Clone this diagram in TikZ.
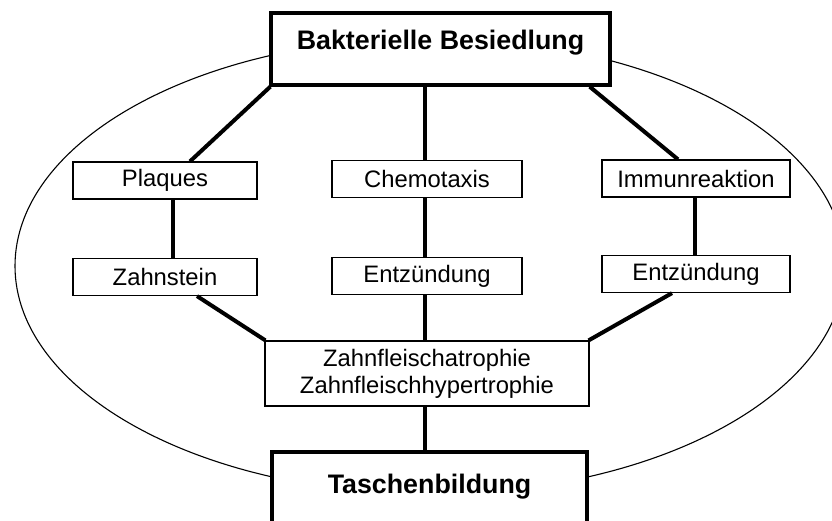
\documentclass[tikz,border=0pt]{standalone}
\usepackage{fontspec}
\setmainfont{Liberation Sans}
\begin{document}
\begin{tikzpicture}[x=1pt,y=-1pt,
  smallbox/.style={draw, line width=1.2pt, fill=white, inner sep=0pt,
    minimum height=37pt, font=\fontsize{23.8}{27}\selectfont},
  bigbox/.style={draw, line width=3.3pt, fill=white, inner xsep=0pt, inner ysep=0pt,
    font=\fontsize{26.8}{30}\selectfont\bfseries, anchor=base},
  link/.style={line width=4pt},
  hull/.style={line width=1.1pt}]
\useasboundingbox (0,0) rectangle (832,521);
\clip (0,0) rectangle (832,521);
% enclosing ellipse
\draw[hull] (430,266) ellipse [x radius=415, y radius=228];
% main boxes
\node[bigbox, minimum width=339pt, text height=37pt, text depth=35pt] (top) at (440.5,50) {Bakterielle Besiedlung};
\node[bigbox, minimum width=315pt, text height=41pt, text depth=45pt] (bot) at (429.5,493) {Taschenbildung};
% small boxes
\node[smallbox, minimum width=184pt] (plq) at (165,180.5) {Plaques};
\node[smallbox, minimum width=184pt] (zst) at (165,277) {Zahnstein};
\node[smallbox, minimum width=190pt] (chem) at (427,179) {Chemotaxis};
\node[smallbox, minimum width=190pt] (entm) at (427,276) {Entzündung};
\node[smallbox, minimum width=188pt] (imm) at (696,178.5) {Immunreaktion};
\node[smallbox, minimum width=188pt] (entr) at (696,274) {Entzündung};
\node[smallbox, minimum width=324pt, minimum height=65pt, align=center] (mid) at (427,373.5) {Zahnfleischatrophie\\Zahnfleischhypertrophie};
% connectors
\draw[link] ([xshift=1pt]top.south west) -- ([xshift=25pt]plq.north);
\draw[link] ([xshift=8pt]plq.south) -- ([xshift=8pt]zst.north);
\draw[link] ([xshift=32pt]zst.south) -- ([xshift=1pt]mid.north west);
\draw[link] ([xshift=-2pt]chem.north |- top.south) -- ([xshift=-2pt]chem.north);
\draw[link] ([xshift=-2pt]chem.south) -- ([xshift=-2pt]entm.north);
\draw[link] ([xshift=-2pt]entm.south) -- ([xshift=-2pt]entm.south |- mid.north);
\draw[link] ([xshift=-2pt]entm.south |- mid.south) -- ([xshift=-2pt]entm.south |- bot.north);
\draw[link] ([xshift=-22pt]top.south east) -- ([xshift=-18pt]imm.north);
\draw[link] ([xshift=-1pt]imm.south) -- ([xshift=-1pt]entr.north);
\draw[link] ([xshift=-24pt]entr.south) -- ([xshift=-1pt]mid.north east);
\end{tikzpicture}
\end{document}
